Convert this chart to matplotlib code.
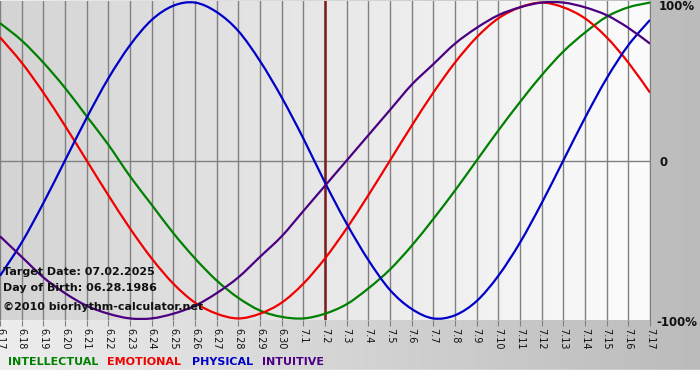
import matplotlib
matplotlib.use("Agg")
import matplotlib.pyplot as plt
import numpy as np
from matplotlib.colors import LinearSegmentedColormap
from matplotlib.patches import Rectangle, PathPatch
from matplotlib.path import Path

# daily dates shown on the x axis (month.day)
days = ["6.17", "6.18", "6.19", "6.20", "6.21", "6.22", "6.23", "6.24",
        "6.25", "6.26", "6.27", "6.28", "6.29", "6.30", "7.1", "7.2",
        "7.3", "7.4", "7.5", "7.6", "7.7", "7.8", "7.9", "7.10", "7.11",
        "7.12", "7.13", "7.14", "7.15", "7.16", "7.17"]
target_day = "7.2"

# cycle values, one per day (-1 .. 1)
intellectual = [0.87, 0.76, 0.62, 0.46, 0.28, 0.10, -0.10, -0.28, -0.46,
                -0.62, -0.76, -0.87, -0.95, -0.99, -1.00, -0.97, -0.91,
                -0.81, -0.69, -0.54, -0.37, -0.19, 0.00, 0.19, 0.37, 0.54,
                0.69, 0.81, 0.91, 0.97, 1.00]
emotional = [0.78, 0.62, 0.43, 0.22, 0.00, -0.22, -0.43, -0.62, -0.78,
             -0.90, -0.97, -1.00, -0.97, -0.90, -0.78, -0.62, -0.43, -0.22,
             0.00, 0.22, 0.43, 0.62, 0.78, 0.90, 0.97, 1.00, 0.97, 0.90,
             0.78, 0.62, 0.43]
physical = [-0.73, -0.52, -0.27, 0.00, 0.27, 0.52, 0.73, 0.89, 0.98, 1.00,
            0.94, 0.82, 0.63, 0.40, 0.14, -0.14, -0.40, -0.63, -0.82, -0.94,
            -1.00, -0.98, -0.89, -0.73, -0.52, -0.27, 0.00, 0.27, 0.52,
            0.73, 0.89]
intuitive = [-0.48, -0.61, -0.74, -0.84, -0.92, -0.97, -1.00, -1.00, -0.97,
             -0.92, -0.84, -0.74, -0.61, -0.48, -0.32, -0.16, 0.00, 0.16,
             0.32, 0.48, 0.61, 0.74, 0.84, 0.92, 0.97, 1.00, 1.00, 0.97,
             0.92, 0.84, 0.74]

series = [("INTELLECTUAL", intellectual, "#008000"),
          ("EMOTIONAL", emotional, "#f00000"),
          ("PHYSICAL", physical, "#0000c8"),
          ("INTUITIVE", intuitive, "#4b0082")]


def smooth_path(xs, ys):
    """Catmull-Rom style bezier path through the given points."""
    pts = np.column_stack([xs, ys]).astype(float)
    ext = np.vstack([pts[0], pts, pts[-1]])
    verts = [pts[0]]
    codes = [Path.MOVETO]
    for i in range(len(pts) - 1):
        p0, p1, p2, p3 = ext[i], ext[i + 1], ext[i + 2], ext[i + 3]
        verts += [p1 + (p2 - p0) / 6, p2 - (p3 - p1) / 6, p2]
        codes += [Path.CURVE4] * 3
    return Path(verts, codes)


W, H = 700, 380
fig = plt.figure(figsize=(W / 100, H / 100), dpi=100)

# outer gradient background
bg = fig.add_axes([0, 0, 1, 1], zorder=-10)
outer = LinearSegmentedColormap.from_list("outer", ["#ededed", "#bbbbbb"])
bg.imshow(np.linspace(0, 1, 256)[None, :], cmap=outer, aspect="auto",
          extent=[0, 1, 0, 1])
bg.add_patch(Rectangle((0, 0), 1, 10 / H, color="white"))
bg.set_xlim(0, 1)
bg.set_ylim(0, 1)
bg.axis("off")

# plot area
ax = fig.add_axes([0, 1 - 320 / H, 650 / W, 319 / H])
x = np.arange(len(days))
inner = LinearSegmentedColormap.from_list("inner", ["#d4d4d4", "#fcfcfc"])
ax.imshow(np.linspace(0, 1, 256)[None, :], cmap=inner, aspect="auto",
          extent=[x[0], x[-1], -1.01, 1.01], zorder=0)
ax.set_xlim(x[0], x[-1])
ax.set_ylim(-1.01, 1.01)

ax.set_xticks(x)
ax.set_xticklabels(days, rotation=270, va="top", ha="center")
ax.tick_params(axis="x", length=4, color="#808080", pad=2, labelsize=7,
               labelcolor="#111111")
ax.set_yticks([])
ax.grid(axis="x", color="#808080", lw=1)
ax.axhline(0, color="#808080", lw=1, zorder=1)
for s in ["top", "left", "bottom"]:
    ax.spines[s].set_visible(False)
ax.spines["right"].set_color("#808080")

ax.axvline(days.index(target_day), color="#7d1c1c", lw=1.8, zorder=2)

for name, vals, col in series:
    ax.add_patch(PathPatch(smooth_path(x, vals), facecolor="none",
                           edgecolor=col, lw=1.6, zorder=3))

# info text
info = ["Target Date: 07.02.2025", "Day of Birth: 06.28.1986",
        "\u00a92010 biorhythm-calculator.net"]
for txt, py in zip(info, [272, 288, 307]):
    fig.text(3 / W, 1 - py / H, txt, va="center", ha="left", fontsize=8,
             fontweight="bold", color="#111111")

# right scale labels
for txt, px, py in [("100%", 659, 7), ("0", 660, 162), ("-100%", 656, 322)]:
    fig.text(px / W, 1 - py / H, txt, va="center", ha="left", fontsize=8.5,
             fontweight="bold", color="#111111")

# legend words
for (name, vals, col), px in zip(series, [8, 107, 192, 262]):
    fig.text(px / W, 1 - 362 / H, name, va="center", ha="left", fontsize=8,
             fontweight="bold", color=col)

fig.savefig("out.png", dpi=100)
